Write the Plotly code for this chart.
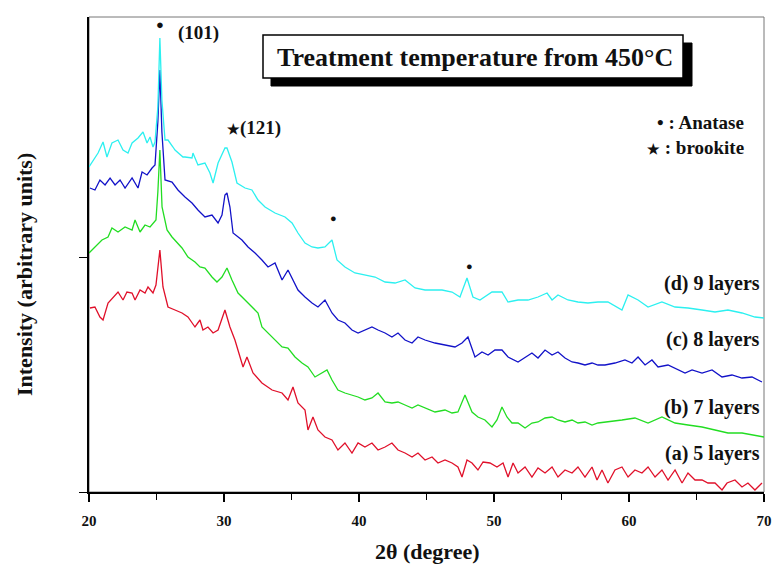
import plotly.graph_objects as go

# ---- data (2θ in degree, intensity in arbitrary units) ----
two_theta_d = [20.0, 20.22, 20.67, 21.04, 21.33, 21.70, 22.15, 22.52, 22.89, 23.19, 23.63, 24.00, 24.30, 24.52,
               24.74, 24.89, 25.10, 25.25, 25.40, 25.63, 25.85, 26.22, 26.37, 26.96, 27.11, 27.63, 27.70, 28.07,
               28.59, 28.96, 29.19, 29.56, 30.07, 30.22, 30.59, 30.96, 31.56, 32.07, 32.52, 33.04, 33.78, 34.52,
               35.04, 35.48, 36.00, 36.52, 36.96, 37.48, 38.00, 38.37, 38.96, 39.70, 40.44, 41.19, 41.93, 42.67,
               43.41, 44.15, 44.89, 45.63, 46.15, 46.89, 47.48, 48.00, 48.44, 48.96, 49.85, 50.59, 51.04, 51.78,
               52.52, 53.26, 53.93, 54.30, 54.74, 55.48, 56.22, 56.96, 57.70, 58.44, 59.48, 59.93, 60.67, 61.41,
               62.44, 63.41, 64.37, 65.41, 66.37, 67.33, 68.37, 69.33, 70.0]
intensity_d = [325, 330, 339, 350, 335, 349, 352, 342, 339, 349, 354, 360, 349, 355,
               345, 350, 385, 454, 392, 352, 352, 345, 342, 335, 335, 334, 339, 327,
               329, 319, 309, 329, 344, 344, 330, 309, 304, 302, 292, 285, 279, 275,
               269, 259, 249, 245, 244, 245, 252, 232, 225, 219, 217, 215, 210, 209,
               212, 204, 202, 202, 202, 200, 195, 214, 195, 192, 200, 200, 190, 192,
               192, 195, 199, 192, 197, 192, 190, 189, 190, 190, 182, 197, 192, 185,
               190, 185, 184, 182, 180, 182, 179, 175, 174]

two_theta_c = [20.07, 20.44, 20.81, 21.19, 21.56, 21.93, 22.30, 22.67, 23.19, 23.63, 23.93, 24.30, 24.67, 24.89,
               25.10, 25.25, 25.40, 25.63, 26.15, 26.59, 27.11, 27.63, 28.07, 28.59, 29.11, 29.56, 29.85, 30.07,
               30.22, 30.44, 30.67, 31.33, 31.78, 32.30, 32.81, 33.26, 33.78, 34.30, 34.74, 35.11, 35.48, 36.00,
               36.52, 36.96, 37.48, 38.00, 38.44, 38.96, 39.48, 39.93, 40.44, 40.96, 41.41, 41.93, 42.44, 42.89,
               43.41, 43.93, 44.37, 44.89, 45.63, 46.37, 47.11, 47.63, 48.07, 48.59, 49.11, 49.56, 50.07, 50.59,
               51.04, 51.78, 52.30, 52.81, 53.26, 53.78, 54.30, 54.74, 55.26, 55.78, 56.22, 56.74, 57.26, 57.70,
               58.22, 58.96, 59.70, 60.22, 60.67, 61.19, 61.70, 62.15, 62.89, 63.63, 64.15, 64.67, 65.41, 66.15,
               66.89, 67.63, 68.37, 69.11, 69.85]
intensity_c = [304, 302, 312, 307, 314, 307, 312, 304, 314, 304, 320, 317, 324, 327,
               370, 422, 360, 312, 310, 302, 295, 289, 282, 275, 277, 269, 277, 297,
               299, 285, 259, 252, 245, 239, 232, 225, 229, 212, 222, 212, 202, 195,
               189, 185, 192, 179, 172, 169, 162, 159, 162, 165, 162, 159, 155, 159,
               152, 149, 155, 152, 149, 147, 145, 149, 155, 135, 140, 137, 142, 142,
               135, 130, 135, 139, 134, 142, 137, 140, 134, 130, 129, 127, 129, 127,
               127, 129, 132, 129, 135, 127, 132, 125, 127, 122, 119, 122, 119, 122,
               115, 117, 114, 115, 110]

two_theta_b = [20.0, 20.44, 20.96, 21.41, 21.70, 22.15, 22.67, 23.19, 23.41, 23.78, 24.15, 24.52, 24.74, 24.96,
               25.10, 25.25, 25.41, 25.78, 26.15, 26.52, 26.89, 27.33, 27.85, 28.22, 28.59, 29.11, 29.48, 29.85,
               30.22, 30.59, 31.04, 31.56, 32.07, 32.52, 32.81, 33.26, 33.78, 34.30, 34.74, 35.26, 35.78, 36.22,
               36.74, 37.26, 37.63, 38.00, 38.44, 38.96, 39.48, 39.93, 40.44, 40.96, 41.41, 41.93, 42.44, 42.89,
               43.41, 43.93, 44.37, 44.89, 45.63, 46.37, 46.89, 47.33, 47.85, 48.37, 48.81, 49.33, 49.85, 50.22,
               50.59, 50.96, 51.33, 51.78, 52.30, 52.81, 53.26, 53.78, 54.30, 54.74, 55.26, 55.78, 56.22, 56.74,
               57.26, 57.70, 58.44, 59.48, 60.44, 61.41, 62.44, 63.41, 64.37, 65.41, 66.37, 67.33, 68.37, 69.33,
               70.0]
intensity_b = [239, 245, 252, 255, 264, 260, 265, 262, 272, 260, 267, 265, 269, 272,
               300, 342, 285, 262, 255, 249, 244, 235, 230, 225, 224, 215, 210, 215,
               224, 212, 199, 192, 185, 179, 165, 159, 152, 145, 144, 135, 129, 125,
               115, 119, 122, 112, 102, 99, 97, 95, 92, 94, 99, 90, 89, 90,
               87, 84, 87, 84, 80, 82, 79, 80, 97, 80, 75, 72, 65, 72,
               85, 75, 69, 69, 64, 69, 70, 74, 75, 72, 70, 72, 69, 70,
               67, 69, 70, 72, 74, 69, 75, 69, 67, 65, 62, 59, 59, 57,
               55]

two_theta_a = [20.07, 20.44, 20.81, 21.04, 21.41, 21.78, 22.15, 22.52, 22.81, 23.19, 23.41, 23.78, 24.15, 24.37,
               24.74, 24.96, 25.25, 25.48, 25.85, 26.37, 26.89, 27.33, 27.85, 28.22, 28.44, 28.81, 29.19, 29.56,
               30.07, 30.44, 30.81, 31.41, 31.70, 32.15, 32.81, 33.56, 34.30, 34.74, 35.11, 35.48, 36.00, 36.22,
               36.59, 36.96, 37.48, 38.00, 38.44, 38.96, 39.48, 39.93, 40.44, 40.96, 41.41, 41.93, 42.44, 42.89,
               43.41, 43.93, 44.37, 44.89, 45.41, 45.85, 46.37, 46.89, 47.33, 47.63, 48.00, 48.37, 48.81, 49.19,
               49.70, 50.22, 50.67, 51.04, 51.41, 51.78, 52.30, 52.81, 53.26, 53.78, 54.30, 54.74, 55.26, 55.78,
               56.22, 56.74, 57.26, 57.63, 58.00, 58.44, 58.96, 59.48, 59.93, 60.44, 60.96, 61.41, 61.93, 62.44,
               62.89, 63.41, 63.93, 64.37, 64.89, 65.41, 65.85, 66.37, 66.89, 67.26, 67.85, 68.37, 68.81, 69.33,
               69.85]
intensity_a = [184, 185, 175, 172, 189, 194, 200, 192, 200, 199, 192, 202, 199, 205,
               199, 207, 242, 205, 185, 182, 179, 175, 165, 172, 162, 165, 159, 162,
               182, 165, 152, 125, 135, 119, 109, 102, 99, 92, 105, 89, 82, 62,
               75, 62, 55, 52, 42, 49, 39, 49, 45, 49, 42, 45, 49, 42,
               39, 35, 39, 32, 35, 29, 32, 29, 25, 15, 32, 29, 22, 30,
               29, 25, 29, 15, 29, 19, 25, 15, 24, 19, 25, 15, 22, 19,
               25, 15, 25, 12, 22, 9, 22, 25, 15, 22, 19, 25, 15, 22,
               12, 22, 9, 19, 12, 12, 9, 9, 2, 9, 12, 5, 9, 2,
               9]

series_labels = ["(a) 5 layers", "(b) 7 layers", "(c) 8 layers", "(d) 9 layers"]
series_colors = ["#E0102A", "#22DD22", "#1212C8", "#2CF0F0"]
x_tick_vals = [20, 30, 40, 50, 60, 70]

FONT = "Liberation Serif"

fig = go.Figure()
for xs, ys, name, col in zip([two_theta_a, two_theta_b, two_theta_c, two_theta_d],
                             [intensity_a, intensity_b, intensity_c, intensity_d],
                             series_labels, series_colors):
    fig.add_trace(go.Scatter(x=xs, y=ys, mode="lines", name=name,
                             line=dict(color=col, width=1.3), showlegend=False))

W, H = 775, 565
L, R, T, B = 89, 11, 17, 73
pw, ph = W - L - R, H - T - B


def px2paper(px, py):
    return (px - L) / pw, (H - B - py) / ph


shapes = []
# frame (top/right) in gray
shapes.append(dict(type="rect", xref="paper", yref="paper", x0=0, x1=1, y0=0, y1=1,
                   line=dict(color="#777777", width=1), layer="below"))
# title box shadow + box
sx0, sy0 = px2paper(271, 86)
sx1, sy1 = px2paper(692, 43)
shapes.append(dict(type="rect", xref="paper", yref="paper", x0=sx0, x1=sx1, y0=sy0, y1=sy1,
                   fillcolor="black", line=dict(color="black", width=1)))
bx0, by0 = px2paper(263, 78)
bx1, by1 = px2paper(683, 35)
shapes.append(dict(type="rect", xref="paper", yref="paper", x0=bx0, x1=bx1, y0=by0, y1=by1,
                   fillcolor="white", line=dict(color="black", width=1.5)))

ann = []


def add_text(px, py, text, size, xanchor="center", angle=0):
    x, y = px2paper(px, py)
    ann.append(dict(xref="paper", yref="paper", x=x, y=y, text=text, showarrow=False,
                    xanchor=xanchor, yanchor="middle", textangle=angle,
                    font=dict(family=FONT, size=size, color="#111111")))


STAR = "<span style='font-size:14px'>★</span>"
add_text(475, 57, "<b>Treatment temperature from 450°C</b>", 26)
add_text(160, 24, "●", 13)
add_text(198, 33, "<b>(101)</b>", 19)
add_text(254, 128, f"<b>{STAR}(121)</b>", 19)
add_text(333, 218, "●", 11)
add_text(469, 266, "●", 11)
add_text(746, 122, "<b>• : Anatase</b>", 19, xanchor="right")
add_text(746, 148, f"<b>{STAR} : brookite</b>", 19, xanchor="right")
add_text(762, 283, "<b>(d) 9 layers</b>", 20, xanchor="right")
add_text(762, 339, "<b>(c) 8 layers</b>", 20, xanchor="right")
add_text(762, 407, "<b>(b) 7 layers</b>", 20, xanchor="right")
add_text(762, 453, "<b>(a) 5 layers</b>", 20, xanchor="right")
add_text(427, 551, "<b>2θ (degree)</b>", 22)
add_text(24, 275, "<b>Intensity (arbitrary units)</b>", 22, angle=-90)

fig.update_layout(
    width=W, height=H, margin=dict(l=L, r=R, t=T, b=B, autoexpand=False),
    paper_bgcolor="white", plot_bgcolor="white",
    shapes=shapes, annotations=ann,
    xaxis=dict(range=[20, 70], tickvals=x_tick_vals, ticktext=[f"<b>{v}</b>" for v in x_tick_vals],
               ticks="outside", ticklen=8, tickwidth=1.5, tickcolor="black",
               minor=dict(dtick=5, ticks="outside", ticklen=6, tickwidth=1.2, tickcolor="black"),
               showline=True, linecolor="black", linewidth=2, showgrid=False, zeroline=False,
               automargin=False, ticklabelstandoff=6,
               tickfont=dict(family=FONT, size=15, color="#111111")),
    yaxis=dict(range=[0, 475], tickvals=[0, 235], showticklabels=False,
               ticks="outside", ticklen=8, tickwidth=1.2, tickcolor="black", automargin=False,
               showline=True, linecolor="black", linewidth=1.5, showgrid=False, zeroline=False),
)

fig.write_html("out.html")
